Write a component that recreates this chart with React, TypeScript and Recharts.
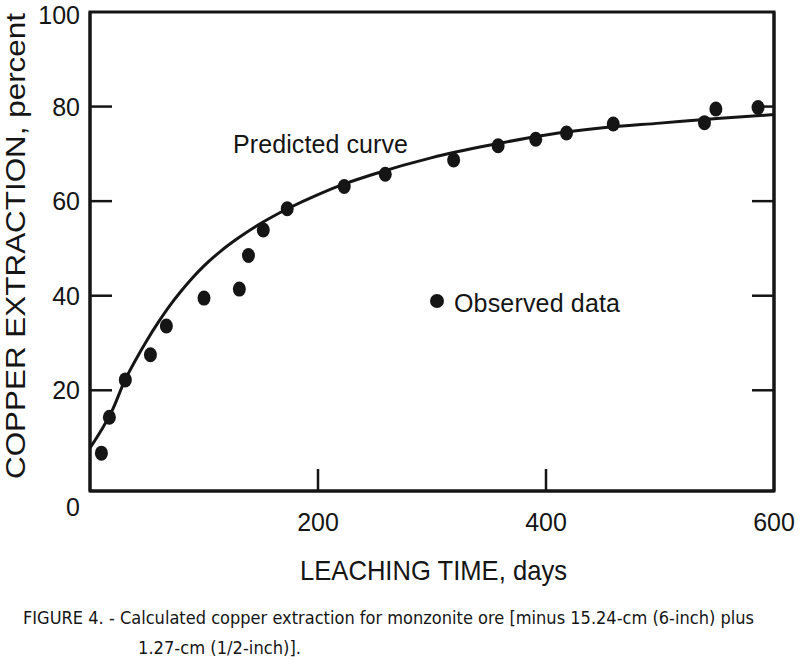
import React from "react";
import { ComposedChart, Line, Scatter, XAxis, YAxis, ReferenceArea } from "recharts";

const observedDays = [10, 17, 31, 53, 67, 100, 131, 139, 152, 173, 223, 259, 319, 358, 391, 418, 459, 539, 549, 586];
const observedPct = [6.7, 14.3, 22.2, 27.5, 33.6, 39.5, 41.4, 48.5, 53.9, 58.4, 63.1, 65.7, 68.7, 71.7, 73.1, 74.4, 76.3, 76.6, 79.5, 79.8];

// predicted curve, sampled from the drawn line
const predictedDays = [0, 10, 20, 30, 40, 50, 60, 70, 80, 90, 100, 115, 130, 145, 160, 175, 200, 225, 250, 300, 350, 400, 450, 500, 550, 600];
const predictedPct = [7.8, 11.6, 16.0, 21.8, 26.4, 30.6, 34.4, 37.9, 41.0, 43.8, 46.3, 49.5, 52.2, 54.6, 56.7, 58.6, 61.4, 63.8, 65.8, 69.2, 71.8, 74.0, 75.5, 76.5, 77.5, 78.3];

const xTicks = [200, 400, 600];
const yTicks = [0, 20, 40, 60, 80, 100];
const innerXTicks = [200, 400];
const innerYTicks = [20, 40, 60, 80];
const xDomain = [0, 600];
const yDomain = [-1.3, 100];

const observed = observedDays.map((day, i) => ({ day, pct: observedPct[i] }));
const predicted = predictedDays.map((day, i) => ({ day, pct: predictedPct[i] }));

const INK = "#151515";
const FONT = "'Liberation Sans', Arial, sans-serif";
const NARROW = "'Liberation Sans Narrow', 'DejaVu Sans Condensed', sans-serif";
const TICK_LEN = 22;
const LEFT_GAP = 10;

function LeftTick(props: any) {
  const { x, y, payload } = props;
  const v = payload.value;
  const axisX = x + LEFT_GAP;
  const ty = v === 0 ? y + 22 : v === 100 ? y + 3 : y;
  return (
    <g>
      {innerYTicks.includes(v) && (
        <line x1={axisX} x2={axisX + TICK_LEN} y1={y} y2={y} stroke={INK} strokeWidth={2.5} />
      )}
      <text x={x} y={ty} dy="0.36em" textAnchor="end" fontSize={25} fontFamily={FONT} fill={INK}>
        {v}
      </text>
    </g>
  );
}

function RightTick(props: any) {
  const { x, y, payload } = props;
  if (!innerYTicks.includes(payload.value)) return <g />;
  return <line x1={x - TICK_LEN} x2={x} y1={y} y2={y} stroke={INK} strokeWidth={2.5} />;
}

function BottomTick(props: any) {
  const { x, y, payload } = props;
  const v = payload.value;
  return (
    <g>
      {innerXTicks.includes(v) && <line x1={x} x2={x} y1={y} y2={y - TICK_LEN} stroke={INK} strokeWidth={2.5} />}
      <text x={x} y={y + 40} textAnchor="middle" fontSize={25} fontFamily={FONT} fill={INK}>
        {v}
      </text>
    </g>
  );
}

function Dot(props: any) {
  const { cx, cy } = props;
  return <ellipse cx={cx} cy={cy} rx={6.5} ry={7.5} fill={INK} />;
}

export default function App() {
  const axisLine = { stroke: INK, strokeWidth: 3 };
  return (
    <div style={{ position: "absolute", left: 0, top: 0, width: 800, height: 660, background: "#fff" }}>
      <div style={{ position: "absolute", left: 0, top: 0 }}>
        <ComposedChart width={800} height={660} margin={{ top: 12, right: 25, bottom: 129, left: 10 }}>
          <XAxis
            dataKey="day"
            type="number"
            domain={xDomain}
            ticks={xTicks}
            tickSize={0}
            tickMargin={0}
            tickLine={false}
            axisLine={axisLine}
            tick={<BottomTick />}
            height={40}
            allowDataOverflow
          />
          <YAxis
            type="number"
            domain={yDomain}
            ticks={yTicks}
            tickSize={0}
            tickMargin={LEFT_GAP}
            tickLine={false}
            axisLine={axisLine}
            tick={<LeftTick />}
            width={80}
            allowDataOverflow
          />
          <YAxis
            yAxisId="right"
            orientation="right"
            type="number"
            domain={yDomain}
            ticks={innerYTicks}
            tickSize={0}
            tickMargin={0}
            tickLine={false}
            axisLine={axisLine}
            tick={<RightTick />}
            width={1}
            allowDataOverflow
          />
          <ReferenceArea
            x1={xDomain[0]}
            x2={xDomain[1]}
            y1={yDomain[0]}
            y2={yDomain[1]}
            fill="none"
            fillOpacity={0}
            stroke={INK}
            strokeWidth={3}
            strokeOpacity={1}
            ifOverflow="visible"
          />
          <Line
            data={predicted}
            dataKey="pct"
            type="monotone"
            stroke={INK}
            strokeWidth={3}
            dot={false}
            activeDot={false}
            isAnimationActive={false}
          />
          <Scatter data={observed} dataKey="pct" shape={<Dot />} isAnimationActive={false} />
        </ComposedChart>
      </div>
      <svg width={800} height={660} style={{ position: "absolute", left: 0, top: 0, pointerEvents: "none" }}>
        <text x={233} y={153} fontSize={25} fontFamily={FONT} fill={INK} textLength={175}>
          Predicted curve
        </text>
        <circle cx={437} cy={301} r={7} fill={INK} />
        <text x={454} y={312} fontSize={25} fontFamily={FONT} fill={INK} textLength={166}>
          Observed data
        </text>
        <text x={300} y={580} fontSize={28} fontFamily={FONT} fill={INK} textLength={267} lengthAdjust="spacingAndGlyphs">
          LEACHING TIME, days
        </text>
        <text
          transform="translate(25,246) rotate(-90)"
          x={0}
          y={0}
          textAnchor="middle"
          fontSize={27}
          fontFamily={FONT}
          fill={INK}
          textLength={466}
          lengthAdjust="spacingAndGlyphs"
        >
          COPPER EXTRACTION, percent
        </text>
        <text x={23} y={624} fontSize={18} fontFamily={NARROW} fill={INK} textLength={731} lengthAdjust="spacingAndGlyphs">
          FIGURE 4. - Calculated copper extraction for monzonite ore [minus 15.24-cm (6-inch) plus
        </text>
        <text x={138} y={654} fontSize={18} fontFamily={NARROW} fill={INK} textLength={163} lengthAdjust="spacingAndGlyphs">
          1.27-cm (1/2-inch)].
        </text>
      </svg>
    </div>
  );
}
